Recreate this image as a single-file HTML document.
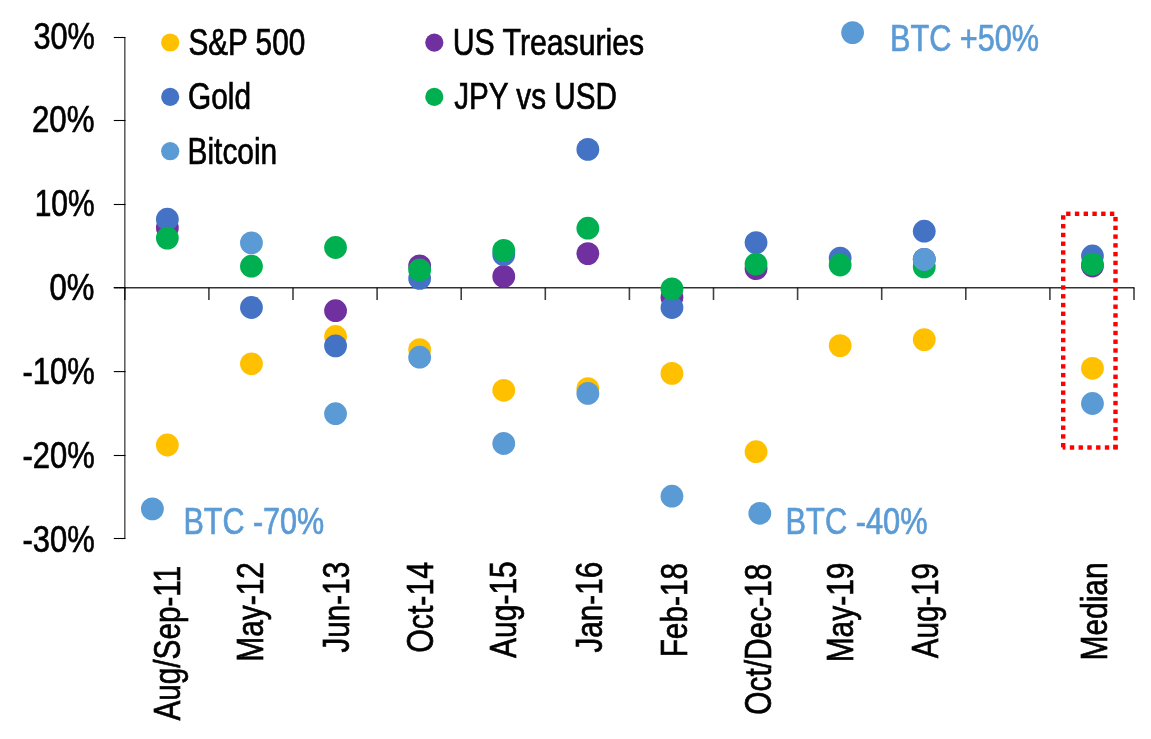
<!DOCTYPE html>
<html><head><meta charset="utf-8"><title>Asset returns during risk-off episodes</title>
<style>
html,body{margin:0;padding:0;background:#fff;overflow:hidden;}
svg{display:block;will-change:transform;}
text{font-family:"Liberation Sans", Arial, sans-serif;font-size:37.0px;stroke-width:0.7;}
</style></head>
<body>
<svg width="1151" height="739" viewBox="0 0 1151 739">
<rect width="1151" height="739" fill="#fff"/>
<line x1="124.8" y1="37.6" x2="124.8" y2="538.4" stroke="#000" stroke-opacity="0.62" stroke-width="1.6"/>
<line x1="113.8" y1="37.50" x2="125.5" y2="37.50" stroke="#000" stroke-width="1.1"/>
<line x1="113.8" y1="120.50" x2="125.5" y2="120.50" stroke="#000" stroke-width="1.1"/>
<line x1="113.8" y1="204.50" x2="125.5" y2="204.50" stroke="#000" stroke-width="1.1"/>
<line x1="113.8" y1="287.60" x2="125.5" y2="287.60" stroke="#000" stroke-width="1.1"/>
<line x1="113.8" y1="371.60" x2="125.5" y2="371.60" stroke="#000" stroke-width="1.1"/>
<line x1="113.8" y1="455.50" x2="125.5" y2="455.50" stroke="#000" stroke-width="1.1"/>
<line x1="113.8" y1="538.50" x2="125.5" y2="538.50" stroke="#000" stroke-width="1.1"/>
<line x1="113.8" y1="287.7" x2="1134.5" y2="287.7" stroke="#000" stroke-opacity="0.8" stroke-width="1.4"/>
<line x1="124.80" y1="287.7" x2="124.80" y2="300.0" stroke="#000" stroke-opacity="0.75" stroke-width="1.6"/>
<line x1="208.90" y1="287.7" x2="208.90" y2="300.0" stroke="#000" stroke-opacity="0.75" stroke-width="1.6"/>
<line x1="293.00" y1="287.7" x2="293.00" y2="300.0" stroke="#000" stroke-opacity="0.75" stroke-width="1.6"/>
<line x1="377.10" y1="287.7" x2="377.10" y2="300.0" stroke="#000" stroke-opacity="0.75" stroke-width="1.6"/>
<line x1="461.20" y1="287.7" x2="461.20" y2="300.0" stroke="#000" stroke-opacity="0.75" stroke-width="1.6"/>
<line x1="545.30" y1="287.7" x2="545.30" y2="300.0" stroke="#000" stroke-opacity="0.75" stroke-width="1.6"/>
<line x1="629.40" y1="287.7" x2="629.40" y2="300.0" stroke="#000" stroke-opacity="0.75" stroke-width="1.6"/>
<line x1="713.50" y1="287.7" x2="713.50" y2="300.0" stroke="#000" stroke-opacity="0.75" stroke-width="1.6"/>
<line x1="797.60" y1="287.7" x2="797.60" y2="300.0" stroke="#000" stroke-opacity="0.75" stroke-width="1.6"/>
<line x1="881.70" y1="287.7" x2="881.70" y2="300.0" stroke="#000" stroke-opacity="0.75" stroke-width="1.6"/>
<line x1="965.80" y1="287.7" x2="965.80" y2="300.0" stroke="#000" stroke-opacity="0.75" stroke-width="1.6"/>
<line x1="1049.90" y1="287.7" x2="1049.90" y2="300.0" stroke="#000" stroke-opacity="0.75" stroke-width="1.6"/>
<line x1="1134.00" y1="287.7" x2="1134.00" y2="300.0" stroke="#000" stroke-opacity="0.75" stroke-width="1.6"/>
<text transform="translate(94.90,48.70) scale(0.8297,1)" text-anchor="end" fill="#000" stroke="#000">30%</text>
<text transform="translate(94.40,131.70) scale(0.8442,1)" text-anchor="end" fill="#000" stroke="#000">20%</text>
<text transform="translate(94.60,215.70) scale(0.8099,1)" text-anchor="end" fill="#000" stroke="#000">10%</text>
<text transform="translate(94.50,300.20) scale(0.8400,1)" text-anchor="end" fill="#000" stroke="#000">0%</text>
<text transform="translate(94.70,384.00) scale(0.8357,1)" text-anchor="end" fill="#000" stroke="#000">-10%</text>
<text transform="translate(94.70,468.30) scale(0.8357,1)" text-anchor="end" fill="#000" stroke="#000">-20%</text>
<text transform="translate(94.70,552.30) scale(0.8357,1)" text-anchor="end" fill="#000" stroke="#000">-30%</text>
<text transform="translate(180.05,565.80) rotate(-90) scale(0.8034,1)" text-anchor="end" fill="#000" stroke="#000">Aug/Sep-11</text>
<text transform="translate(262.85,562.00) rotate(-90) scale(0.8083,1)" text-anchor="end" fill="#000" stroke="#000">May-12</text>
<text transform="translate(348.85,561.90) rotate(-90) scale(0.8006,1)" text-anchor="end" fill="#000" stroke="#000">Jun-13</text>
<text transform="translate(432.95,561.90) rotate(-90) scale(0.8184,1)" text-anchor="end" fill="#000" stroke="#000">Oct-14</text>
<text transform="translate(516.05,561.30) rotate(-90) scale(0.8096,1)" text-anchor="end" fill="#000" stroke="#000">Aug-15</text>
<text transform="translate(601.55,561.90) rotate(-90) scale(0.8006,1)" text-anchor="end" fill="#000" stroke="#000">Jan-16</text>
<text transform="translate(687.25,562.80) rotate(-90) scale(0.8068,1)" text-anchor="end" fill="#000" stroke="#000">Feb-18</text>
<text transform="translate(770.95,563.70) rotate(-90) scale(0.8074,1)" text-anchor="end" fill="#000" stroke="#000">Oct/Dec-18</text>
<text transform="translate(853.35,562.60) rotate(-90) scale(0.8083,1)" text-anchor="end" fill="#000" stroke="#000">May-19</text>
<text transform="translate(937.95,563.00) rotate(-90) scale(0.7978,1)" text-anchor="end" fill="#000" stroke="#000">Aug-19</text>
<text transform="translate(1107.35,562.40) rotate(-90) scale(0.8077,1)" text-anchor="end" fill="#000" stroke="#000">Median</text>
<text transform="translate(188.40,54.70) scale(0.8038,1)" text-anchor="start" fill="#000" stroke="#000">S&amp;P 500</text>
<text transform="translate(188.00,109.10) scale(0.8061,1)" text-anchor="start" fill="#000" stroke="#000">Gold</text>
<text transform="translate(187.50,164.40) scale(0.8084,1)" text-anchor="start" fill="#000" stroke="#000">Bitcoin</text>
<text transform="translate(452.80,54.80) scale(0.8167,1)" text-anchor="start" fill="#000" stroke="#000">US Treasuries</text>
<text transform="translate(454.20,109.10) scale(0.8023,1)" text-anchor="start" fill="#000" stroke="#000">JPY vs USD</text>
<text transform="translate(890.00,50.60) scale(0.8286,1)" text-anchor="start" fill="#5B9BD5" stroke="#5B9BD5">BTC +50%</text>
<text transform="translate(183.40,534.20) scale(0.8257,1)" text-anchor="start" fill="#5B9BD5" stroke="#5B9BD5">BTC -70%</text>
<text transform="translate(785.60,533.60) scale(0.8317,1)" text-anchor="start" fill="#5B9BD5" stroke="#5B9BD5">BTC -40%</text>
<circle cx="170.2" cy="42.5" r="9.1" fill="#FFC000"/>
<circle cx="170.2" cy="96.9" r="9.1" fill="#4472C4"/>
<circle cx="170.2" cy="151.2" r="9.1" fill="#5B9BD5"/>
<circle cx="434.3" cy="42.6" r="9.1" fill="#7030A0"/>
<circle cx="434.3" cy="96.9" r="9.1" fill="#00B050"/>
<circle cx="167.35" cy="445.0" r="11.4" fill="#FFC000"/>
<circle cx="251.45" cy="363.8" r="11.4" fill="#FFC000"/>
<circle cx="335.54999999999995" cy="336.5" r="11.4" fill="#FFC000"/>
<circle cx="419.65" cy="349.6" r="11.4" fill="#FFC000"/>
<circle cx="503.75" cy="390.3" r="11.4" fill="#FFC000"/>
<circle cx="587.85" cy="388.6" r="11.4" fill="#FFC000"/>
<circle cx="671.9499999999999" cy="373.4" r="11.4" fill="#FFC000"/>
<circle cx="756.05" cy="451.7" r="11.4" fill="#FFC000"/>
<circle cx="840.15" cy="345.6" r="11.4" fill="#FFC000"/>
<circle cx="924.25" cy="339.6" r="11.4" fill="#FFC000"/>
<circle cx="1092.4499999999998" cy="368.3" r="11.4" fill="#FFC000"/>
<circle cx="167.35" cy="227.9" r="11.4" fill="#7030A0"/>
<circle cx="335.54999999999995" cy="310.7" r="11.4" fill="#7030A0"/>
<circle cx="419.65" cy="265.9" r="11.4" fill="#7030A0"/>
<circle cx="503.75" cy="276.4" r="11.4" fill="#7030A0"/>
<circle cx="587.85" cy="253.6" r="11.4" fill="#7030A0"/>
<circle cx="671.9499999999999" cy="297.3" r="11.4" fill="#7030A0"/>
<circle cx="756.05" cy="268.7" r="11.4" fill="#7030A0"/>
<circle cx="924.25" cy="259.3" r="11.4" fill="#7030A0"/>
<circle cx="1092.4499999999998" cy="266.0" r="11.4" fill="#7030A0"/>
<circle cx="167.35" cy="219.2" r="11.4" fill="#4472C4"/>
<circle cx="251.45" cy="307.5" r="11.4" fill="#4472C4"/>
<circle cx="335.54999999999995" cy="345.9" r="11.4" fill="#4472C4"/>
<circle cx="419.65" cy="278.4" r="11.4" fill="#4472C4"/>
<circle cx="503.75" cy="254.7" r="11.4" fill="#4472C4"/>
<circle cx="587.85" cy="149.4" r="11.4" fill="#4472C4"/>
<circle cx="671.9499999999999" cy="307.5" r="11.4" fill="#4472C4"/>
<circle cx="756.05" cy="242.6" r="11.4" fill="#4472C4"/>
<circle cx="840.15" cy="258.1" r="11.4" fill="#4472C4"/>
<circle cx="924.25" cy="231.2" r="11.4" fill="#4472C4"/>
<circle cx="1092.4499999999998" cy="256.0" r="11.4" fill="#4472C4"/>
<circle cx="167.35" cy="238.1" r="11.4" fill="#00B050"/>
<circle cx="251.45" cy="266.2" r="11.4" fill="#00B050"/>
<circle cx="335.54999999999995" cy="247.5" r="11.4" fill="#00B050"/>
<circle cx="419.65" cy="269.9" r="11.4" fill="#00B050"/>
<circle cx="503.75" cy="250.4" r="11.4" fill="#00B050"/>
<circle cx="587.85" cy="228.2" r="11.4" fill="#00B050"/>
<circle cx="671.9499999999999" cy="288.9" r="11.4" fill="#00B050"/>
<circle cx="756.05" cy="264.1" r="11.4" fill="#00B050"/>
<circle cx="840.15" cy="265.0" r="11.4" fill="#00B050"/>
<circle cx="924.25" cy="266.9" r="11.4" fill="#00B050"/>
<circle cx="1092.4499999999998" cy="264.2" r="11.4" fill="#00B050"/>
<circle cx="152.4" cy="508.9" r="11.4" fill="#5B9BD5"/>
<circle cx="251.45" cy="242.9" r="11.4" fill="#5B9BD5"/>
<circle cx="335.54999999999995" cy="413.7" r="11.4" fill="#5B9BD5"/>
<circle cx="419.65" cy="357.2" r="11.4" fill="#5B9BD5"/>
<circle cx="503.75" cy="443.5" r="11.4" fill="#5B9BD5"/>
<circle cx="587.85" cy="393.4" r="11.4" fill="#5B9BD5"/>
<circle cx="671.9499999999999" cy="496.2" r="11.4" fill="#5B9BD5"/>
<circle cx="759.8" cy="513.3" r="11.4" fill="#5B9BD5"/>
<circle cx="852.6" cy="32.6" r="11.4" fill="#5B9BD5"/>
<circle cx="924.25" cy="259.5" r="11.4" fill="#5B9BD5"/>
<circle cx="1092.4499999999998" cy="403.5" r="11.4" fill="#5B9BD5"/>
<g fill="#FF0000"><rect x="1066.10" y="211.60" width="4.4" height="4.4"/><rect x="1074.86" y="211.60" width="4.4" height="4.4"/><rect x="1083.62" y="211.60" width="4.4" height="4.4"/><rect x="1092.38" y="211.60" width="4.4" height="4.4"/><rect x="1101.14" y="211.60" width="4.4" height="4.4"/><rect x="1109.90" y="211.60" width="4.4" height="4.4"/><rect x="1061.00" y="215.25" width="4.4" height="4.4"/><rect x="1061.00" y="224.01" width="4.4" height="4.4"/><rect x="1061.00" y="232.77" width="4.4" height="4.4"/><rect x="1061.00" y="241.53" width="4.4" height="4.4"/><rect x="1061.00" y="250.29" width="4.4" height="4.4"/><rect x="1061.00" y="259.05" width="4.4" height="4.4"/><rect x="1061.00" y="267.81" width="4.4" height="4.4"/><rect x="1061.00" y="276.57" width="4.4" height="4.4"/><rect x="1061.00" y="285.33" width="4.4" height="4.4"/><rect x="1061.00" y="294.09" width="4.4" height="4.4"/><rect x="1061.00" y="302.85" width="4.4" height="4.4"/><rect x="1061.00" y="311.61" width="4.4" height="4.4"/><rect x="1061.00" y="320.37" width="4.4" height="4.4"/><rect x="1061.00" y="329.13" width="4.4" height="4.4"/><rect x="1061.00" y="337.89" width="4.4" height="4.4"/><rect x="1061.00" y="346.65" width="4.4" height="4.4"/><rect x="1061.00" y="355.41" width="4.4" height="4.4"/><rect x="1061.00" y="364.17" width="4.4" height="4.4"/><rect x="1061.00" y="372.93" width="4.4" height="4.4"/><rect x="1061.00" y="381.69" width="4.4" height="4.4"/><rect x="1061.00" y="390.45" width="4.4" height="4.4"/><rect x="1061.00" y="399.21" width="4.4" height="4.4"/><rect x="1061.00" y="407.97" width="4.4" height="4.4"/><rect x="1061.00" y="416.73" width="4.4" height="4.4"/><rect x="1061.00" y="425.49" width="4.4" height="4.4"/><rect x="1061.00" y="434.25" width="4.4" height="4.4"/><rect x="1061.00" y="443.01" width="4.4" height="4.4"/><rect x="1113.30" y="216.90" width="4.4" height="4.4"/><rect x="1113.30" y="225.66" width="4.4" height="4.4"/><rect x="1113.30" y="234.42" width="4.4" height="4.4"/><rect x="1113.30" y="243.18" width="4.4" height="4.4"/><rect x="1113.30" y="251.94" width="4.4" height="4.4"/><rect x="1113.30" y="260.70" width="4.4" height="4.4"/><rect x="1113.30" y="269.46" width="4.4" height="4.4"/><rect x="1113.30" y="278.22" width="4.4" height="4.4"/><rect x="1113.30" y="286.98" width="4.4" height="4.4"/><rect x="1113.30" y="295.74" width="4.4" height="4.4"/><rect x="1113.30" y="304.50" width="4.4" height="4.4"/><rect x="1113.30" y="313.26" width="4.4" height="4.4"/><rect x="1113.30" y="322.02" width="4.4" height="4.4"/><rect x="1113.30" y="330.78" width="4.4" height="4.4"/><rect x="1113.30" y="339.54" width="4.4" height="4.4"/><rect x="1113.30" y="348.30" width="4.4" height="4.4"/><rect x="1113.30" y="357.06" width="4.4" height="4.4"/><rect x="1113.30" y="365.82" width="4.4" height="4.4"/><rect x="1113.30" y="374.58" width="4.4" height="4.4"/><rect x="1113.30" y="383.34" width="4.4" height="4.4"/><rect x="1113.30" y="392.10" width="4.4" height="4.4"/><rect x="1113.30" y="400.86" width="4.4" height="4.4"/><rect x="1113.30" y="409.62" width="4.4" height="4.4"/><rect x="1113.30" y="418.38" width="4.4" height="4.4"/><rect x="1113.30" y="427.14" width="4.4" height="4.4"/><rect x="1113.30" y="435.90" width="4.4" height="4.4"/><rect x="1113.30" y="444.66" width="4.4" height="4.4"/><rect x="1069.80" y="445.30" width="4.4" height="4.4"/><rect x="1078.56" y="445.30" width="4.4" height="4.4"/><rect x="1087.32" y="445.30" width="4.4" height="4.4"/><rect x="1096.08" y="445.30" width="4.4" height="4.4"/><rect x="1104.84" y="445.30" width="4.4" height="4.4"/><rect x="1062.6" y="446.7" width="2.8" height="2.9"/><rect x="1113.3" y="445.1" width="4.4" height="4.5"/></g>
</svg>
</body></html>
